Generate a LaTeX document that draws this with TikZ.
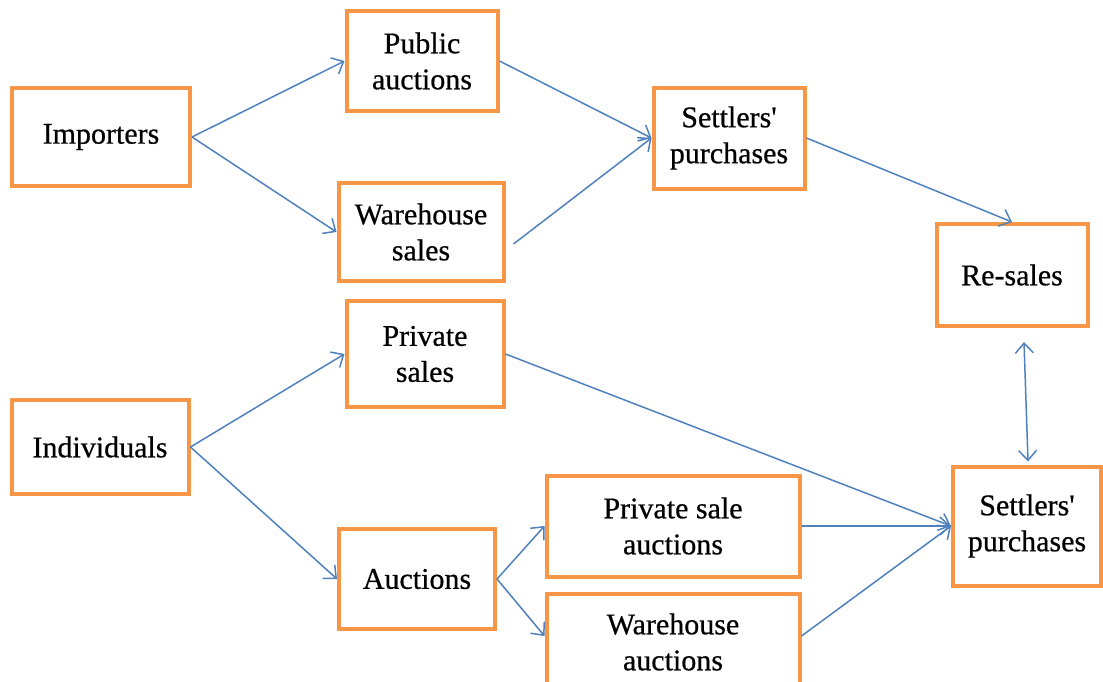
\documentclass[tikz,border=0pt]{standalone}
\usepackage{fontspec}
\setmainfont{Liberation Serif}
\newfontfamily\boxfont[FakeBold=0.6]{Liberation Serif}
\usetikzlibrary{arrows.meta,calc}
\definecolor{boxorange}{HTML}{F79646}
\definecolor{arrowblue}{HTML}{4F81BD}
\begin{document}
\begin{tikzpicture}[x=1pt,y=-1pt,
  box/.style={draw=boxorange,line width=4pt,fill=white,align=center,
    inner sep=0pt,font=\boxfont\fontsize{30}{36}\selectfont},
  flow/.style={draw=arrowblue,line width=1.5pt,-{Straight Barb[length=10pt,width=18pt,line width=1.5pt]}},
  twoway/.style={draw=arrowblue,line width=1.5pt,{Straight Barb[length=10pt,width=18pt,line width=1.5pt]}-{Straight Barb[length=10pt,width=18pt,line width=1.5pt]}}]
\useasboundingbox (0,0) rectangle (1103,681);
\node[box,minimum width=178pt,minimum height=98pt] (imp) at (101,137) {Importers};
\node[box,minimum width=151pt,minimum height=100pt] (pub) at (422,61) {Public\\auctions};
\node[box,minimum width=165pt,minimum height=98pt] (ws) at (421,232) {Warehouse\\sales};
\node[box,minimum width=151pt,minimum height=101pt] (st) at (729,138) {Settlers\textquotesingle\\purchases};
\node[box,minimum width=151pt,minimum height=102pt] (re) at (1012,275) {Re-sales};
\node[box,minimum width=157pt,minimum height=106pt] (ps) at (425,354) {Private\\sales};
\node[box,minimum width=177pt,minimum height=94pt] (ind) at (100,447) {Individuals};
\node[box,minimum width=156pt,minimum height=100pt] (auc) at (417,579) {Auctions};
\node[box,minimum width=253pt,minimum height=101pt] (psa) at (673,526) {Private sale\\auctions};
\node[box,minimum width=253pt,minimum height=96pt] (wa) at (673,642) {Warehouse\\auctions};
\node[box,minimum width=148pt,minimum height=119pt] (sb) at (1027,526) {Settlers\textquotesingle\\purchases};
\coordinate (wsout) at ($(ws.east)+(8,12)$);
\coordinate (reout) at ($(re.south)+(12,14)$);
\coordinate (sbin) at ($(sb.north)+(1,-3)$);
\draw[flow] (imp.east) -- (pub.west);
\draw[flow] (imp.east) -- (ws.west);
\draw[flow] (pub.east) -- (st.west);
\draw[flow] (wsout) -- (st.west);
\draw[flow] (st.east) -- (re.north);
\draw[twoway] (reout) -- (sbin);
\draw[flow] (ind.east) -- (ps.west);
\draw[flow] (ind.east) -- (auc.west);
\draw[flow] (ps.east) -- (sb.west);
\draw[flow] (auc.east) -- (psa.west);
\draw[flow] (auc.east) -- ($(wa.west)+(0,-6)$);
\draw[flow] (psa.east) -- (sb.west);
\draw[flow] ($(wa.east)+(0,-6)$) -- (sb.west);
\end{tikzpicture}
\end{document}
